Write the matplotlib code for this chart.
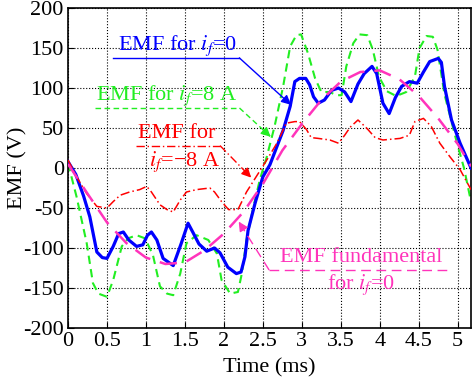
import matplotlib
matplotlib.use('Agg')
import matplotlib.pyplot as plt

# ---- datos ----
t_if0 = [0.00, 0.10, 0.20, 0.28, 0.37, 0.44, 0.50, 0.58, 0.65, 0.71, 0.78, 0.88, 0.96,
         1.02, 1.07, 1.14, 1.22, 1.35, 1.45, 1.54, 1.60, 1.68, 1.78, 1.88, 1.95, 2.05,
         2.16, 2.22, 2.27, 2.31, 2.40, 2.50, 2.59, 2.76, 2.85, 2.91, 2.97, 3.05, 3.10,
         3.15, 3.21, 3.29, 3.38, 3.47, 3.55, 3.63, 3.72, 3.80, 3.90, 3.96, 4.04, 4.12,
         4.20, 4.28, 4.38, 4.48, 4.56, 4.64, 4.75, 4.79, 4.83, 4.92, 5.03, 5.17]
emf_if0 = [8, -8, -35, -61, -105, -112, -113, -98, -82, -80, -90, -98, -96,
           -84, -80, -90, -113, -122, -95, -69, -80, -95, -104, -100, -106, -124,
           -132, -130, -111, -78, -44, -11, 4, 47, 77, 108, 112, 112, 104,
           89, 81, 85, 97, 100, 95, 83, 105, 118, 127, 118, 81, 68,
           88, 102, 108, 106, 120, 133, 137, 132, 102, 60, 31, 0]

t_if8 = [0.00, 0.11, 0.24, 0.32, 0.39, 0.50, 0.58, 0.69, 0.77, 0.88, 0.99, 1.09, 1.18,
         1.27, 1.35, 1.44, 1.52, 1.65, 1.80, 1.91, 1.97, 2.08, 2.18, 2.23, 2.29, 2.38,
         2.46, 2.55, 2.65, 2.76, 2.85, 2.93, 2.99, 3.08, 3.17, 3.25, 3.36, 3.44, 3.51,
         3.57, 3.66, 3.74, 3.84, 3.91, 3.99, 4.09, 4.21, 4.34, 4.45, 4.51, 4.60, 4.68,
         4.74, 4.83, 4.98, 5.08, 5.17]
emf_if8 = [6, -36, -94, -144, -157, -161, -140, -98, -88, -84, -88, -109, -148,
           -157, -159, -132, -94, -84, -90, -107, -140, -157, -155, -132, -90, -48,
           -15, 14, 52, 102, 152, 166, 167, 143, 112, 95, 95, 91, 91,
           127, 156, 167, 166, 148, 114, 96, 90, 95, 114, 150, 165, 164,
           148, 92, 35, 0, -42]

t_ifm8 = [0.00, 0.11, 0.24, 0.37, 0.50, 0.58, 0.67, 0.79, 0.92, 1.01, 1.07, 1.18, 1.27,
          1.35, 1.44, 1.52, 1.65, 1.82, 1.88, 1.97, 2.06, 2.18, 2.29, 2.42, 2.55, 2.68,
          2.80, 2.91, 2.97, 3.06, 3.12, 3.21, 3.36, 3.47, 3.55, 3.62, 3.72, 3.83, 3.94,
          4.04, 4.26, 4.38, 4.45, 4.56, 4.66, 4.77, 4.90, 5.03, 5.17]
emf_ifm8 = [10, -11, -32, -48, -50, -42, -34, -30, -27, -23, -30, -46, -52,
            -55, -40, -30, -27, -25, -30, -42, -52, -52, -30, -10, 10, 31,
            56, 58, 58, 48, 38, 37, 35, 31, 41, 51, 60, 50, 38,
            35, 37, 41, 58, 62, 52, 31, 14, -2, -27]

t_fund = [0, 0.25, 0.5, 0.75, 1.0, 1.25, 1.5, 1.75, 2.0, 2.25, 2.5, 2.75, 3.0, 3.25,
          3.5, 3.75, 4.0, 4.25, 4.5, 4.75, 5.0, 5.17]
emf_fund = [5, -32, -68, -94, -112, -120, -118, -103, -82, -55, -20, 22, 55, 85,
            108, 120, 122, 111, 90, 62, 30, 2]

xticks = [0, 0.5, 1, 1.5, 2, 2.5, 3, 3.5, 4, 4.5, 5]
xticklabels = ['0', '0.5', '1', '1.5', '2', '2.5', '3', '3.5', '4', '4.5', '5']
yticks = [-200, -150, -100, -50, 0, 50, 100, 150, 200]

azul = '#0000ff'
verde = '#22ee22'
rojo = '#ff0000'
rosa = '#ff33bb'

plt.rcParams['font.family'] = ['Liberation Serif', 'DejaVu Serif']
plt.rcParams['mathtext.fontset'] = 'stix'
plt.rcParams['axes.unicode_minus'] = False

fig = plt.figure(figsize=(4.72, 3.81), dpi=100)
ax = fig.add_axes([68 / 472, 53 / 381, 403 / 472, 320 / 381])

ax.plot(t_if8, emf_if8, color=verde, lw=1.5, ls=(0, (4, 2.5)), zorder=2)
ax.plot(t_if0, emf_if0, color=azul, lw=2.3, zorder=3)
ax.plot(t_ifm8, emf_ifm8, color=rojo, lw=1.1, ls=(0, (6, 2, 1, 2)), zorder=3)
ax.plot(t_fund, emf_fund, color=rosa, lw=1.8, ls=(0, (7, 4)), zorder=4)

ax.set_xlim(0, 5.17)
ax.set_ylim(-200, 200)
ax.set_xticks(xticks)
ax.set_xticklabels(xticklabels)
ax.set_yticks(yticks)
ax.tick_params(direction='in', labelsize=16, length=4, width=0.8, pad=3)
ax.grid(True, color='black', ls=':', lw=0.8)
for s in ax.spines.values():
    s.set_linewidth(1.2)
ax.set_xlabel('Time (ms)', fontsize=16, labelpad=5)
ax.set_ylabel('EMF (V)', fontsize=16)
ax.yaxis.set_label_coords(-0.10, 0.5)

fs = 16
flecha = dict(arrowstyle='-|>', mutation_scale=14, lw=1.0, shrinkA=0, shrinkB=0)


def etiqueta(textos, color, x0, x1, yl, punta, ls):
    for (xt, yt, s) in textos:
        ax.text(xt, yt, s, color=color, fontsize=fs, ha='center', va='baseline', zorder=6)
    ax.plot([x0, x1], [yl, yl], color=color, lw=1.0, ls=ls, zorder=6, clip_on=False)
    inicio = x1 if punta[0] > x1 else x0
    ax.plot([inicio, punta[0]], [yl, punta[1]], color=color, lw=1.0, ls=ls, zorder=6)
    dx = punta[0] - inicio
    dy = punta[1] - yl
    ax.annotate('', xy=punta, xytext=(punta[0] - 0.12 * dx, punta[1] - 0.12 * dy),
                arrowprops=dict(flecha, color=color), zorder=7)


etiqueta([(1.40, 148, 'EMF for $i_f$=0')], azul, 0.58, 2.20, 137.5, (2.86, 79), '-')
etiqueta([(1.27, 85, 'EMF for $i_f$=8 A')], verde, 0.35, 2.20, 75, (2.60, 39), (0, (4, 2.5)))
etiqueta([(1.40, 37, 'EMF for'), (1.50, 2.5, '$i_f$=−8 A')], rojo, 0.87, 1.95, 28,
         (2.35, -12), (0, (6, 2, 1, 2)))
etiqueta([(3.76, -117, 'EMF fundamental'), (3.76, -151, 'for $i_f$=0')], rosa, 2.58, 4.88,
         -127.5, (2.19, -67), (0, (7, 4)))

fig.savefig('out.png', dpi=100)
